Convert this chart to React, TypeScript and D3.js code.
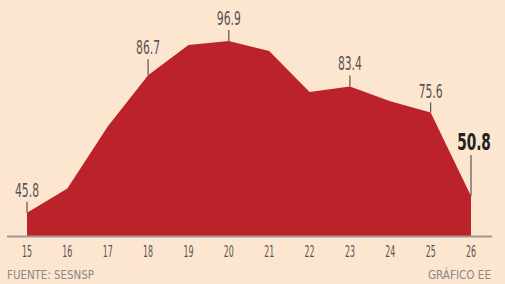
import React from "react";
import * as d3 from "d3";

const years = ["15", "16", "17", "18", "19", "20", "21", "22", "23", "24", "25", "26"];
const values = [45.8, 53.0, 71.5, 86.7, 95.7, 96.9, 93.9, 81.7, 83.4, 79.0, 75.6, 50.8];
const labeledIdx = [0, 3, 5, 8, 10, 11];
const labelGap = [16, 21, 16, 16, 15, 46];
const sourceText = "FUENTE: SESNSP";
const creditText = "GRÁFICO EE";

const W = 505;
const H = 284;
const BG = "#fde6cf";
const RED = "#bb2229";
const FONT = "'DejaVu Sans Condensed', 'Liberation Sans Narrow', sans-serif";

export default function App() {
  const x = d3.scalePoint<string>().domain(years).range([27, 471]);
  const y = d3.scaleLinear().domain([38.9, 96.9]).range([236, 41]);
  const data = years.map((yr, i) => ({ yr, v: values[i] }));
  const area = d3
    .area<{ yr: string; v: number }>()
    .x((d) => x(d.yr)!)
    .y0(y(38.9))
    .y1((d) => y(d.v));

  return (
    <svg
      width={W}
      height={H}
      style={{ position: "absolute", left: 0, top: 0, display: "block" }}
    >
      <rect x={0} y={0} width={W} height={H} fill={BG} />
      <path d={area(data)!} fill={RED} />
      <line x1={7} x2={492} y1={y(38.9) + 0.5} y2={y(38.9) + 0.5} stroke="#9a9a92" strokeWidth={2} />
      {years.map((yr) => (
        <text
          key={yr}
          x={x(yr)}
          y={257}
          textAnchor="middle"
          fontFamily={FONT}
          fontSize={16}
          textLength={10}
          lengthAdjust="spacingAndGlyphs"
          fill="#555"
        >
          {yr}
        </text>
      ))}
      {labeledIdx.map((i, k) => {
        const px = x(years[i])!;
        const py = y(values[i]);
        const last = i === years.length - 1;
        const ty = py - labelGap[k];
        return (
          <g key={i}>
            <line x1={px} x2={px} y1={ty + 5} y2={py} stroke="#555" strokeWidth={1.2} />
            {last ? (
              <text
                transform={`translate(${px + 3},${ty}) scale(0.66,1)`}
                textAnchor="middle"
                fontFamily={FONT}
                fontSize={23}
                fontWeight="bold"
                fill="#222"
              >
                {values[i].toFixed(1)}
              </text>
            ) : (
              <text
                x={px}
                y={ty}
                textAnchor="middle"
                fontFamily={FONT}
                fontSize={20}
                textLength={24}
                lengthAdjust="spacingAndGlyphs"
                fill="#555"
              >
                {values[i].toFixed(1)}
              </text>
            )}
          </g>
        );
      })}
      <text
        x={7}
        y={279}
        fontFamily={FONT}
        fontSize={12}
        textLength={87}
        lengthAdjust="spacingAndGlyphs"
        fill="#888"
      >
        {sourceText}
      </text>
      <text
        x={428}
        y={279}
        fontFamily={FONT}
        fontSize={12}
        textLength={63}
        lengthAdjust="spacingAndGlyphs"
        fill="#888"
      >
        {creditText}
      </text>
    </svg>
  );
}
